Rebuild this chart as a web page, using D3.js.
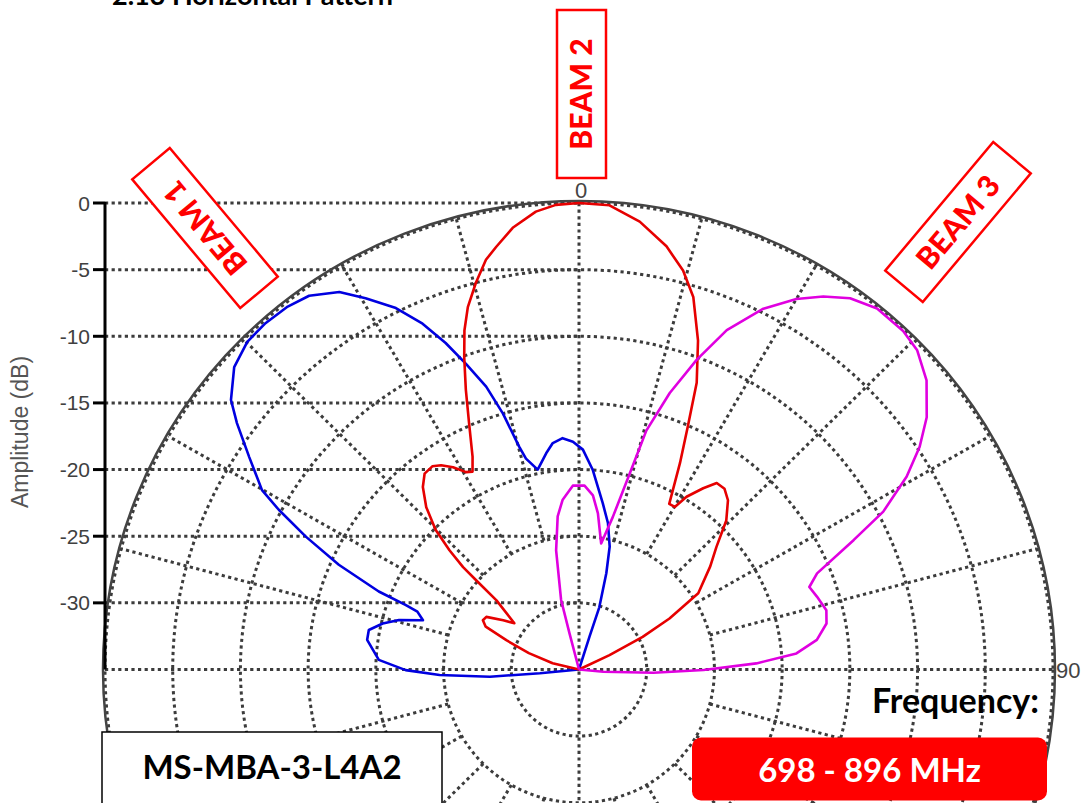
<!DOCTYPE html>
<html>
<head>
<meta charset="utf-8">
<script src="https://cdn.jsdelivr.net/npm/d3@7"></script>
<style>
  body { margin: 0; background: #fff; }
  svg { display: block; }
</style>
</head>
<body>
<svg id="chart" width="1087" height="803"></svg>
<script>
// horizontal pattern of the three beams, angle in degrees (0 = boresight), level in dB
const beam1Angles = [-100, -95.5, -94.7, -92.3, -90.2, -87.2, -81.9, -79.2, -76.6, -74.4, -72.2, -70, -69.3, -68.4, -66.1,
  -63.7, -61.6, -60.1, -56.8, -53.8, -51.8, -48.3, -44.9, -41.7, -38.3, -35.4, -32, -29.5, -26.5, -24,
  -21.9, -20, -17.9, -16.3, -14.8, -13.9, -11.5, -8.5, -6.5, -4, -1.5, 1, 3.9, 8, 11,
  13.8, 15.6, 17.8, 17.5, 18.5, 90];
const beam1Db = [-35, -32.1, -28.4, -24.7, -22.2, -20.2, -19.2, -19.2, -20.1, -21.2, -22.9, -22.3, -21.3, -19.1, -15.6,
  -12.5, -9.8, -8, -5.9, -3.7, -2.3, -0.9, -0.3, -0.2, -0.3, -0.6, -1.6, -3, -4.7, -6.6,
  -8.6, -10.6, -12.7, -15, -17.7, -18.7, -19.7, -18.6, -17.9, -17.6, -17.9, -18.5, -20, -22.4, -23.8,
  -25.5, -27.5, -30.1, -32.4, -35, -35];

const beam2Angles = [-90, -80, -76.5, -71.7, -67.7, -65, -62.5, -60, -56.6, -54, -49.6, -48.6, -48.1, -46.9, -45.3,
  -42.8, -40.1, -37.8, -35.4, -33.6, -31.5, -29.4, -27.9, -26.2, -23.7, -21.7, -19.9, -18.4, -16.8, -14.7,
  -12.6, -10.9, -8.4, -5.3, -2.8, 0, 3.7, 7.6, 11.5, 14.4, 16.8, 19.6, 22, 23.8, 25.7,
  28.2, 30.1, 31.5, 34, 36, 38.4, 40.9, 44.2, 47.8, 51.4, 57, 60.2, 62.5, 64.3, 66, 90];
const beam2Db = [-35, -35, -33, -31.1, -29.2, -27.4, -27, -27.1, -28.3, -29.1, -27, -24.9, -23.5, -21.9, -20.1,
  -18.4, -17.1, -16.4, -16.3, -16.6, -17.2, -18, -18.2, -17.2, -14.8, -12.4, -10.1, -8.2, -6.6, -5,
  -3.5, -2.7, -1.5, -0.5, -0.1, 0, -0.1, -1.1, -2.6, -4.1, -5.8, -8.8, -11.8, -15.1, -17.8,
  -20.9, -20.9, -19.8, -18.6, -17.7, -17.7, -18.2, -19.4, -21.3, -22.6, -24.5, -27.3, -29.7, -32.5, -35, -35];

const beam3Angles = [-90, -16, -14.5, -14.2, -10.7, -7.8, -5.4, -1.9, 1.7, 4.5, 6.8, 9.8, 12.3, 14.3, 15.5,
  17.9, 20.5, 23.2, 26.7, 30, 32.8, 35.7, 39.1, 43.3, 46.2, 49.8, 53.6, 56.4, 59.1, 62.2,
  64.4, 67.7, 70, 72.7, 76.3, 79.3, 82.8, 85.7, 88, 90.2, 92.5, 95.3, 97];
const beam3Db = [-35, -35, -32.2, -29.6, -25.9, -23.4, -22.2, -21.2, -21.2, -21.9, -23.2, -25.4, -23.3, -19.8, -16.4,
  -13.2, -10.2, -7.3, -4.7, -2.9, -1.7, -0.7, -0.1, -0.1, -0.4, -1.4, -3.1, -4.8, -6.8, -9.6,
  -12.5, -16, -16.9, -16.6, -16.2, -16.4, -17.3, -18.9, -21.9, -25.8, -29.5, -33.2, -35];

const dbTicks = [0, -5, -10, -15, -20, -25, -30];
const ringLevels = [-30, -25, -20, -15, -10, -5, 0];
const angleLabels = [{a: 0, t: "0"}, {a: 90, t: "90"}];

const beams = [
  {name: "BEAM 1", color: "#0000e0", angles: beam1Angles, db: beam1Db},
  {name: "BEAM 2", color: "#e60000", angles: beam2Angles, db: beam2Db},
  {name: "BEAM 3", color: "#e000e0", angles: beam3Angles, db: beam3Db}
];

const cx = 579, cy = 669.5, rx = 474, ry = 466.5;
const axisX = cx - rx;
const r = d3.scaleLinear().domain([-35, 0]).range([0, 1]).clamp(true);
const rad = a => a * Math.PI / 180;
const px = (a, db) => cx + rx * r(db) * Math.sin(rad(a));
const py = (a, db) => cy - ry * r(db) * Math.cos(rad(a));

const svg = d3.select("#chart");
const grid = svg.append("g")
    .attr("fill", "none")
    .attr("stroke", "#3c3c3c")
    .attr("stroke-width", 3)
    .attr("stroke-dasharray", "3.2,3.4");

// rings
grid.selectAll("ellipse")
  .data(ringLevels)
  .join("ellipse")
    .attr("cx", cx)
    .attr("cy", cy)
    .attr("rx", d => rx * r(d))
    .attr("ry", d => ry * r(d));

// spokes every 15 deg, starting at the second ring
const spokes = d3.range(0, 360, 15).filter(a => a % 90 !== 0);
grid.selectAll("line.spoke")
  .data(spokes)
  .join("line")
    .attr("class", "spoke")
    .attr("x1", a => px(a, -25)).attr("y1", a => py(a, -25))
    .attr("x2", a => px(a, 0)).attr("y2", a => py(a, 0));

// cross lines
grid.append("line")
    .attr("x1", cx).attr("x2", cx)
    .attr("y1", py(0, 0)).attr("y2", py(180, 0));
grid.append("line")
    .attr("x1", px(-90, 0)).attr("x2", px(90, 0))
    .attr("y1", cy).attr("y2", cy);

// level lines from the amplitude axis
grid.selectAll("line.level")
  .data(dbTicks)
  .join("line")
    .attr("class", "level")
    .attr("x1", axisX).attr("x2", cx)
    .attr("y1", d => py(0, d)).attr("y2", d => py(0, d));

// outer solid circle
svg.append("ellipse")
    .attr("cx", cx).attr("cy", cy)
    .attr("rx", rx + 2).attr("ry", ry + 2)
    .attr("fill", "none")
    .attr("stroke", "#444")
    .attr("stroke-width", 2.5);

// amplitude axis
const yAxis = svg.append("g");
yAxis.append("line")
    .attr("x1", axisX).attr("x2", axisX)
    .attr("y1", py(0, 0) - 1).attr("y2", cy)
    .attr("stroke", "#000").attr("stroke-width", 3);
yAxis.selectAll("line.tick")
  .data(dbTicks)
  .join("line")
    .attr("class", "tick")
    .attr("x1", axisX - 12).attr("x2", axisX)
    .attr("y1", d => py(0, d)).attr("y2", d => py(0, d))
    .attr("stroke", "#000").attr("stroke-width", 3);
yAxis.selectAll("text")
  .data(dbTicks)
  .join("text")
    .attr("x", axisX - 15)
    .attr("y", d => py(0, d))
    .attr("dy", "0.36em")
    .attr("text-anchor", "end")
    .attr("font-family", "Liberation Sans, Arial, sans-serif")
    .attr("font-size", 21)
    .attr("fill", "#404040")
    .text(d => d);

svg.append("text")
    .attr("transform", "translate(28,432) rotate(-90)")
    .attr("text-anchor", "middle")
    .attr("font-family", "Liberation Sans, Arial, sans-serif")
    .attr("font-size", 23)
    .attr("fill", "#555")
    .text("Amplitude (dB)");

// angle labels
svg.append("text")
    .attr("x", cx + 2).attr("y", py(0, 0) - 5)
    .attr("text-anchor", "middle")
    .attr("font-family", "Liberation Sans, Arial, sans-serif")
    .attr("font-size", 22).attr("fill", "#444")
    .text(angleLabels[0].t);
svg.append("text")
    .attr("x", px(90, 0) + 3).attr("y", cy + 8)
    .attr("font-family", "Liberation Sans, Arial, sans-serif")
    .attr("font-size", 22).attr("fill", "#444")
    .text(angleLabels[1].t);

// patterns
const line = d3.line()
    .x(d => px(d[0], d[1]))
    .y(d => py(d[0], d[1]));

svg.append("g")
  .selectAll("path")
  .data(beams)
  .join("path")
    .attr("fill", "none")
    .attr("stroke", d => d.color)
    .attr("stroke-width", 2.6)
    .attr("stroke-linejoin", "round")
    .attr("d", d => line(d3.zip(d.angles, d.db)));

// beam tags
const tags = [
  {text: "BEAM 1", x: 205, y: 228, rot: -130},
  {text: "BEAM 2", x: 581.5, y: 94, rot: -90},
  {text: "BEAM 3", x: 958, y: 222, rot: -50}
];
const tag = svg.append("g").selectAll("g")
  .data(tags)
  .join("g")
    .attr("transform", d => `translate(${d.x},${d.y}) rotate(${d.rot})`);
tag.append("rect")
    .attr("x", -84).attr("y", -24.5)
    .attr("width", 168).attr("height", 49)
    .attr("fill", "#fff")
    .attr("stroke", "#ff0000")
    .attr("stroke-width", 2.5);
tag.append("text")
    .attr("text-anchor", "middle")
    .attr("dy", "0.36em")
    .attr("font-family", "Lato, sans-serif")
    .attr("font-weight", "900")
    .attr("font-size", 30)
    .attr("fill", "#ff0000")
    .text(d => d.text);

// title (cut by the top edge, as in the source)
svg.append("text")
    .attr("x", 112).attr("y", 5)
    .attr("font-family", "Lato, sans-serif")
    .attr("font-weight", "bold")
    .attr("font-size", 27)
    .text("2.13 Horizontal Pattern");

// model box
svg.append("rect")
    .attr("x", 102).attr("y", 732)
    .attr("width", 340).attr("height", 80)
    .attr("fill", "#fff").attr("stroke", "#000").attr("stroke-width", 1.5);
svg.append("text")
    .attr("x", 272).attr("y", 779)
    .attr("text-anchor", "middle")
    .attr("font-family", "Lato, sans-serif")
    .attr("font-weight", "bold")
    .attr("font-size", 33)
    .text("MS-MBA-3-L4A2");

// frequency
svg.append("text")
    .attr("x", 1039).attr("y", 713)
    .attr("text-anchor", "end")
    .attr("font-family", "Lato, sans-serif")
    .attr("font-weight", "bold")
    .attr("font-size", 34)
    .text("Frequency:");
svg.append("rect")
    .attr("x", 692).attr("y", 737.5)
    .attr("width", 355).attr("height", 63)
    .attr("rx", 9)
    .attr("fill", "#ff0000");
svg.append("text")
    .attr("x", 869.5).attr("y", 782)
    .attr("text-anchor", "middle")
    .attr("font-family", "Lato, sans-serif")
    .attr("font-weight", "bold")
    .attr("font-size", 33)
    .attr("fill", "#fff")
    .text("698 - 896 MHz");
</script>
</body>
</html>
